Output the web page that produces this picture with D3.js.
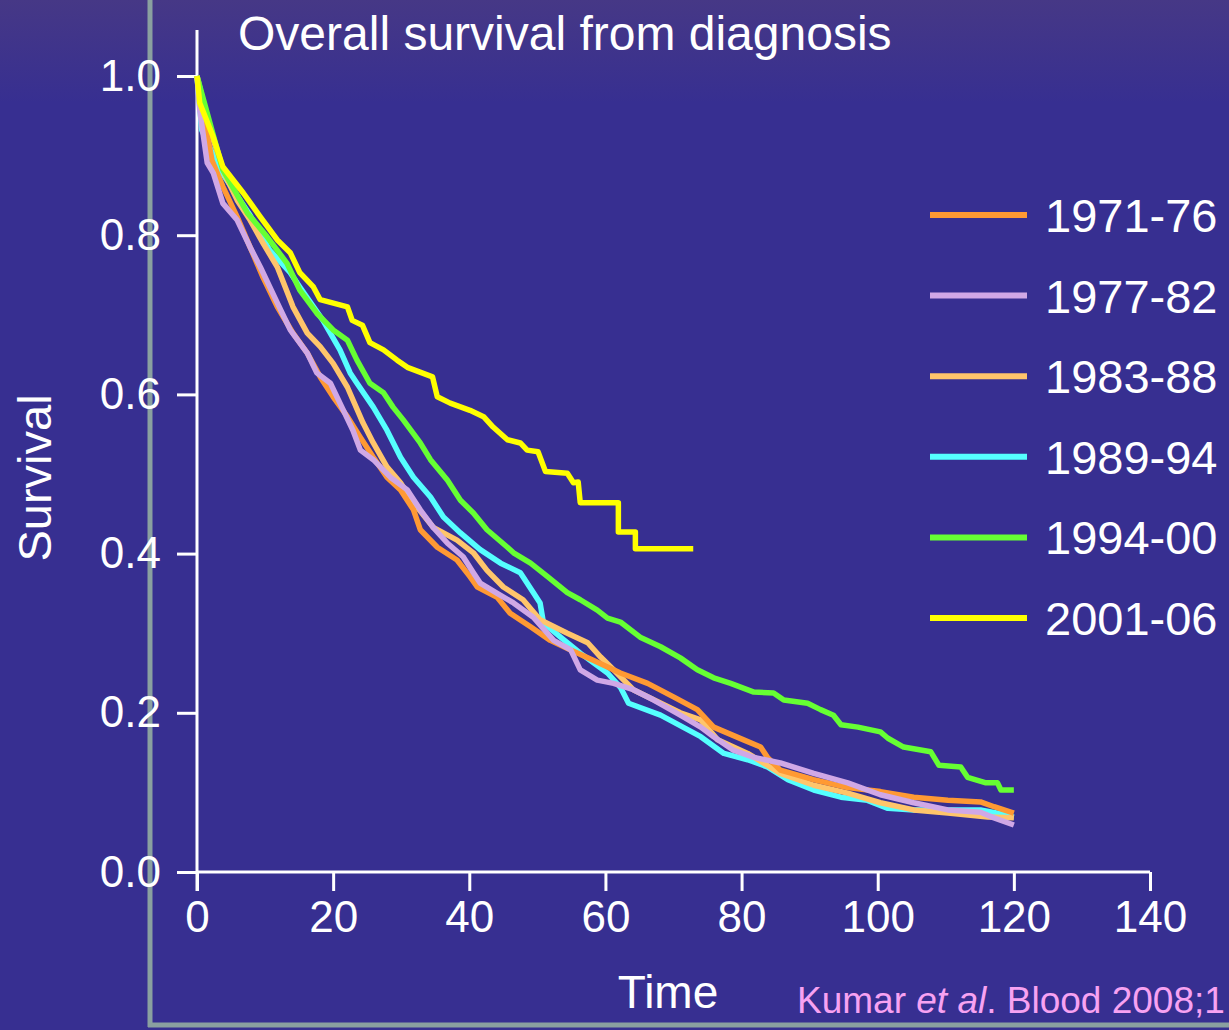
<!DOCTYPE html>
<html>
<head>
<meta charset="utf-8">
<script src="https://cdn.jsdelivr.net/npm/d3@7"></script>
<style>
    body { margin: 0; background: #372f91; overflow: hidden; }
    text { font-family: "Liberation Sans", Arial, sans-serif; }
</style>
</head>
<body>
<div id="chart"></div>
<script>
// cohorts shown in the legend
const cohorts = ["1971-76", "1977-82", "1983-88", "1989-94", "1994-00", "2001-06"];
const cohortColors = ["#ff9933", "#d0a8e6", "#ffc56b", "#55ffff", "#66ff33", "#ffff00"];

// [months, survival]
const surv7176 = [[0,1.0],[0.4,0.976],[2.2,0.894],[3.8,0.861],[5.9,0.823],[7.8,0.785],[9.7,0.747],[11.8,0.710],[14.1,0.677],[16.2,0.652],[18.1,0.622],[20.0,0.597],[22.1,0.572],[24.0,0.546],[25.9,0.521],[27.9,0.496],[29.9,0.480],[31.8,0.455],[32.8,0.430],[35.3,0.408],[38.2,0.392],[40.1,0.371],[41.2,0.358],[44.1,0.345],[46.0,0.325],[49.0,0.308],[51.9,0.291],[54.9,0.279],[58.2,0.266],[62.2,0.250],[66.2,0.237],[70.0,0.220],[73.5,0.204],[75.9,0.182],[80.3,0.166],[82.8,0.157],[83.8,0.144],[85.7,0.128],[90.6,0.116],[95.6,0.106],[100.4,0.101],[105.3,0.094],[110.3,0.090],[115.1,0.088],[117.1,0.082],[120,0.074]];
const surv7782 = [[0,1.0],[0.4,0.957],[1.5,0.891],[2.4,0.878],[3.8,0.840],[5.9,0.819],[7.8,0.785],[9.3,0.760],[11.8,0.715],[13.7,0.681],[16.2,0.652],[17.6,0.627],[19.6,0.614],[21.0,0.589],[22.9,0.555],[24.0,0.530],[25.9,0.518],[28.4,0.496],[30.9,0.480],[32.8,0.455],[34.7,0.433],[36.8,0.413],[39.1,0.396],[40.6,0.376],[41.6,0.363],[44.1,0.350],[46.5,0.338],[49.4,0.320],[52.4,0.291],[54.9,0.279],[56.3,0.254],[58.8,0.241],[61.2,0.237],[64.1,0.229],[67.1,0.216],[71.0,0.197],[74.0,0.182],[75.9,0.170],[78.8,0.153],[81.8,0.144],[85.7,0.137],[90.6,0.124],[95.6,0.112],[100.4,0.097],[105.3,0.087],[110.3,0.078],[115.1,0.075],[117.1,0.068],[120,0.059]];
const surv8388 = [[0,1.0],[1.9,0.932],[4.1,0.876],[5.9,0.844],[7.8,0.819],[9.7,0.790],[11.8,0.760],[14.1,0.710],[16.2,0.677],[18.1,0.660],[20.0,0.639],[22.1,0.609],[24.4,0.564],[25.9,0.539],[27.9,0.509],[29.9,0.489],[31.8,0.464],[34.7,0.433],[38.2,0.417],[40.6,0.401],[42.6,0.379],[45.0,0.358],[47.9,0.342],[50.4,0.317],[54.4,0.300],[57.4,0.288],[59.3,0.270],[61.2,0.254],[64.1,0.229],[71.0,0.200],[74.0,0.191],[76.5,0.166],[80.9,0.149],[85.7,0.124],[90.6,0.109],[95.6,0.099],[100.4,0.087],[105.3,0.078],[110.3,0.074],[116.2,0.069],[120,0.068]];
const surv8994 = [[0,1.0],[0.7,0.932],[3.4,0.882],[7.8,0.825],[10.7,0.781],[13.7,0.753],[15.1,0.735],[18.5,0.693],[21.0,0.656],[22.5,0.627],[23.5,0.614],[25.9,0.584],[27.9,0.555],[29.9,0.521],[31.8,0.496],[34.3,0.471],[36.2,0.446],[38.7,0.426],[41.6,0.405],[44.6,0.388],[47.5,0.376],[49.4,0.351],[50.4,0.338],[50.9,0.313],[53.4,0.295],[56.3,0.275],[60.3,0.250],[62.2,0.232],[63.4,0.212],[68.1,0.197],[74.0,0.170],[77.4,0.149],[80.9,0.141],[83.8,0.132],[86.8,0.116],[90.6,0.103],[94.6,0.094],[98.5,0.090],[101.5,0.080],[105.3,0.078],[115.1,0.078],[117.6,0.074],[120,0.069]];
const surv9400 = [[0,1.0],[3.8,0.882],[7.4,0.828],[10.3,0.798],[13.2,0.765],[15.1,0.731],[17.6,0.702],[20.0,0.681],[22.1,0.668],[23.5,0.643],[25.4,0.614],[27.4,0.602],[28.8,0.584],[30.3,0.568],[32.8,0.539],[34.3,0.518],[36.8,0.492],[38.7,0.467],[40.6,0.451],[42.6,0.430],[45.6,0.408],[46.5,0.401],[49.0,0.388],[51.5,0.371],[54.4,0.351],[56.3,0.342],[58.8,0.329],[60.3,0.319],[62.2,0.314],[65.1,0.295],[68.1,0.283],[71.0,0.269],[73.5,0.254],[75.9,0.244],[78.4,0.237],[81.8,0.226],[84.7,0.225],[86.2,0.216],[89.7,0.212],[91.6,0.204],[93.5,0.197],[94.6,0.185],[97.1,0.182],[100.4,0.176],[101.5,0.168],[103.8,0.157],[107.8,0.151],[109.0,0.134],[112.2,0.132],[113.2,0.119],[115.9,0.112],[117.6,0.112],[118.1,0.103],[120,0.103]];
const surv0106 = [[0,1.0],[0.4,0.966],[2.4,0.923],[3.8,0.886],[6.8,0.853],[9.3,0.823],[11.8,0.794],[13.7,0.778],[15.1,0.753],[17.1,0.735],[18.1,0.719],[22.1,0.710],[22.8,0.693],[24.3,0.687],[25.4,0.665],[27.4,0.656],[29.4,0.643],[30.9,0.634],[34.6,0.622],[35.3,0.597],[37.2,0.589],[40.1,0.580],[42.1,0.572],[43.5,0.559],[45.6,0.543],[47.5,0.539],[48.5,0.530],[50.1,0.528],[51.2,0.503],[54.4,0.501],[55.3,0.489],[56.0,0.490],[56.3,0.464],[61.9,0.464],[61.9,0.427],[64.4,0.427],[64.4,0.406],[72.9,0.406]];

const xTicks = [0, 20, 40, 60, 80, 100, 120, 140];
const yTicks = [0, 0.2, 0.4, 0.6, 0.8, 1.0];

const width = 1229, height = 1030;

const svg = d3.select("#chart").append("svg")
    .attr("width", width)
    .attr("height", height);

// slide background, slightly lighter band at the very top
const defs = svg.append("defs");
const grad = defs.append("linearGradient")
    .attr("id", "bg")
    .attr("x1", 0).attr("y1", 0).attr("x2", 0).attr("y2", 1);
grad.append("stop").attr("offset", "0%").attr("stop-color", "#463886");
grad.append("stop").attr("offset", "10%").attr("stop-color", "#372f91");
grad.append("stop").attr("offset", "100%").attr("stop-color", "#372f91");

svg.append("rect")
    .attr("width", width)
    .attr("height", height)
    .attr("fill", "url(#bg)");

// grey slide frame
svg.append("line")
    .attr("x1", 150).attr("x2", 150).attr("y1", 0).attr("y2", 1027)
    .attr("stroke", "#8aa0a0").attr("stroke-width", 5);
svg.append("line")
    .attr("x1", 148).attr("x2", width).attr("y1", 1025).attr("y2", 1025)
    .attr("stroke", "#8aa0a0").attr("stroke-width", 5);

const x = d3.scaleLinear().domain([0, 140]).range([197, 1150]);
const y = d3.scaleLinear().domain([0, 1]).range([872, 76]);

// x axis
const xAxis = svg.append("g")
    .attr("transform", `translate(0,${y(0)})`)
    .call(d3.axisBottom(x).tickValues(xTicks).tickSize(19).tickPadding(10).tickSizeOuter(0));

// y axis
const yAxis = svg.append("g")
    .attr("transform", `translate(${x(0)},0)`)
    .call(d3.axisLeft(y).tickValues(yTicks).tickFormat(d3.format(".1f")).tickSize(20).tickPadding(16).tickSizeOuter(0));

[xAxis, yAxis].forEach(ax => {
    ax.select(".domain").attr("stroke", "#fff").attr("stroke-width", 3);
    ax.selectAll(".tick line").attr("stroke", "#fff").attr("stroke-width", 3);
    ax.selectAll(".tick text")
        .attr("fill", "#fff")
        .style("font-family", "'Liberation Sans', Arial, sans-serif")
        .style("font-size", "44px");
});
// y axis runs above 1.0 and below 0
yAxis.select(".domain").attr("d", `M0,30V${y(0) + 19}`);
xAxis.select(".domain").attr("d", `M${x(0)},0H${x(140)}`);

// curves
const line = d3.line()
    .x(d => x(d[0]))
    .y(d => y(d[1]));

const curves = [surv7176, surv7782, surv8388, surv8994, surv9400, surv0106];
const drawOrder = [3, 2, 0, 1, 4, 5];

svg.append("g")
    .selectAll("path")
    .data(drawOrder)
    .join("path")
    .attr("d", i => line(curves[i]))
    .attr("fill", "none")
    .attr("stroke", i => cohortColors[i])
    .attr("stroke-width", 5.5)
    .attr("stroke-linejoin", "round");

// legend
const legend = svg.append("g");
const legendY = d3.scalePoint().domain(cohorts).range([215, 618]);

legend.selectAll("line")
    .data(cohorts)
    .join("line")
    .attr("x1", 930).attr("x2", 1027)
    .attr("y1", d => legendY(d)).attr("y2", d => legendY(d))
    .attr("stroke", (d, i) => cohortColors[i])
    .attr("stroke-width", 6);

legend.selectAll("text")
    .data(cohorts)
    .join("text")
    .attr("x", 1045)
    .attr("y", d => legendY(d))
    .attr("dy", "0.36em")
    .attr("fill", "#fff")
    .style("font-size", "47px")
    .text(d => d);

// titles
svg.append("text")
    .attr("x", 238).attr("y", 50)
    .attr("fill", "#fff")
    .style("font-size", "48px")
    .text("Overall survival from diagnosis");

svg.append("text")
    .attr("transform", "translate(51,478) rotate(-90)")
    .attr("text-anchor", "middle")
    .attr("fill", "#fff")
    .style("font-size", "47px")
    .text("Survival");

svg.append("text")
    .attr("x", 668).attr("y", 1008)
    .attr("text-anchor", "middle")
    .attr("fill", "#fff")
    .style("font-size", "46px")
    .text("Time");

const cite = svg.append("text")
    .attr("x", 797).attr("y", 1013)
    .attr("fill", "#f7a2f2")
    .style("font-size", "37px");
cite.append("tspan").text("Kumar ");
cite.append("tspan").style("font-style", "italic").text("et al");
cite.append("tspan").text(". Blood 2008;1");
</script>
</body>
</html>
